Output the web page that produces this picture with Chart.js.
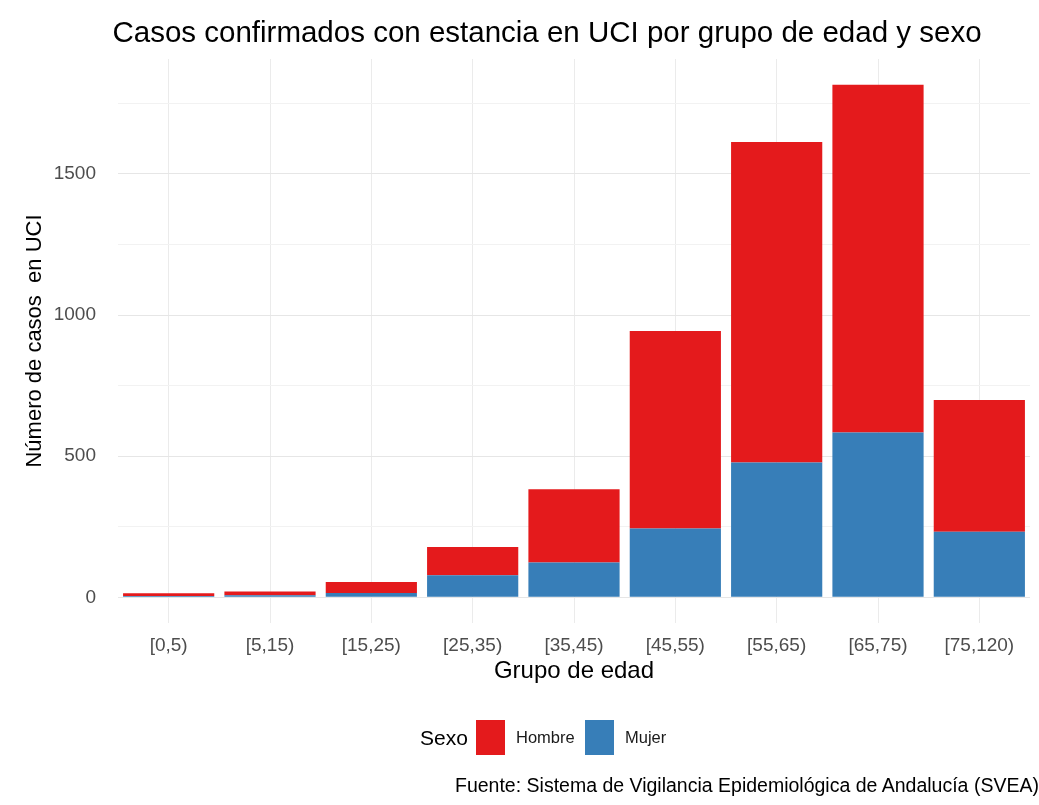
<!DOCTYPE html>
<html>
<head>
<meta charset="utf-8">
<script src="https://cdn.jsdelivr.net/npm/chart.js@4/dist/chart.umd.min.js"></script>
<style>
  body { margin: 0; background: #fff; font-family: 'Liberation Sans', Arial, sans-serif; }
  #wrap { position: relative; width: 1039px; height: 805px; overflow: hidden; }
  #title { position: absolute; left: 0; top: 17px; width: 1094px; text-align: center; font-size: 29.5px; line-height: 29px; color: #000; white-space: nowrap; }
  #legend { position: absolute; left: 420px; top: 720px; height: 35px; display: flex; align-items: center; color: #000; }
  #legend .title { font-size: 21px; width: 56px; }
  #legend .box { width: 29px; height: 35px; margin-right: 11px; }
  #legend .lab { font-size: 16.5px; width: 69px; color: #1a1a1a; }
  #caption { position: absolute; left: 455px; top: 774px; font-size: 19.5px; color: #000; white-space: nowrap; }
</style>
</head>
<body>
<div id="wrap">
  <canvas id="uci-chart" width="1039" height="805"></canvas>
  <div id="title">Casos confirmados con estancia en UCI por grupo de edad y sexo</div>
  <div id="legend"></div>
  <div id="caption">Fuente: Sistema de Vigilancia Epidemiológica de Andalucía (SVEA)</div>
</div>
<script>
// grupos de edad
const grupos = ['[0,5)', '[5,15)', '[15,25)', '[25,35)', '[35,45)', '[45,55)', '[55,65)', '[65,75)', '[75,120)'];
// casos en UCI por sexo
const mujer = [5, 7, 15, 78, 123, 244, 478, 584, 232];
const hombre = [9, 14, 39, 100, 260, 699, 1135, 1232, 467];
const yTicks = [0, 250, 500, 750, 1000, 1250, 1500, 1750];

const rojo = '#E41A1C';
const azul = '#377EB8';
const fuente = "'Liberation Sans', Arial, sans-serif";

let uciChart = new Chart(document.getElementById('uci-chart'), {
  type: 'bar',
  data: {
    labels: grupos,
    datasets: [
      { label: 'Mujer', data: mujer, backgroundColor: azul, barPercentage: 0.9, categoryPercentage: 1 },
      { label: 'Hombre', data: hombre, backgroundColor: rojo, barPercentage: 0.9, categoryPercentage: 1 },
    ],
  },
  options: {
    responsive: false,
    animation: false,
    layout: { padding: { top: 59, left: 0, right: 9, bottom: 119 } },
    plugins: {
      legend: { display: false },
      tooltip: { enabled: false },
      title: { display: false },
    },
    scales: {
      x: {
        stacked: true,
        border: { display: false },
        grid: { color: '#ebebeb', offset: false, drawTicks: false },
        ticks: { color: '#4d4d4d', font: { family: fuente, size: 19 }, padding: 11 },
        title: {
          display: true,
          text: 'Grupo de edad',
          color: '#000',
          font: { family: fuente, size: 24 },
          padding: { top: 0, bottom: 0 },
        },
        afterFit: (scale) => { scale.height = 63; },
      },
      y: {
        stacked: true,
        min: -91,
        max: 1907,
        border: { display: false },
        afterBuildTicks: (scale) => { scale.ticks = yTicks.map((v) => ({ value: v })); },
        grid: {
          drawTicks: false,
          color: (ctx) => (ctx.tick && ctx.tick.value % 500 === 0 ? '#e6e6e6' : '#f2f2f2'),
        },
        ticks: {
          color: '#4d4d4d',
          font: { family: fuente, size: 19 },
          padding: 22,
          callback: (v) => (v % 500 === 0 ? v : ''),
        },
        title: {
          display: true,
          text: 'Número de casos  en UCI',
          color: '#000',
          font: { family: fuente, size: 22 },
          padding: { top: 22, bottom: 0 },
        },
        afterFit: (scale) => { scale.width = 118; },
      },
    },
  },
});

// leyenda (Hombre primero, como en el original)
const leyenda = document.getElementById('legend');
leyenda.innerHTML = '<span class="title">Sexo</span>';
[1, 0].forEach((i) => {
  const ds = uciChart.data.datasets[i];
  leyenda.innerHTML += '<span class="box" style="background:' + ds.backgroundColor + '"></span><span class="lab">' + ds.label + '</span>';
});
</script>
</body>
</html>
